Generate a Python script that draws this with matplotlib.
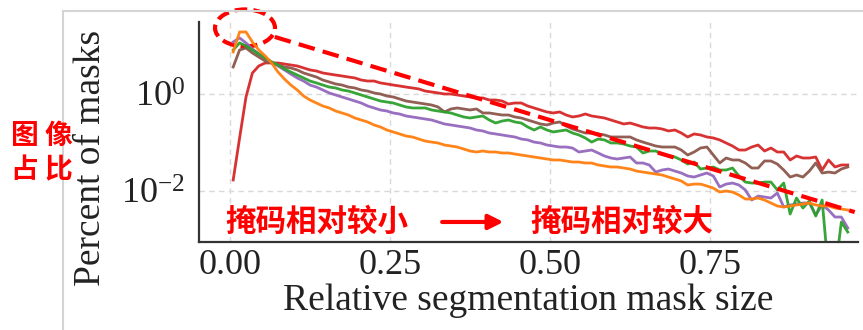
import numpy as np
import matplotlib.pyplot as plt
from matplotlib.patches import Ellipse
from matplotlib.lines import Line2D
from matplotlib.ticker import FixedLocator, NullLocator, StrMethodFormatter

plt.rcParams['font.family'] = ['Liberation Serif', 'DejaVu Serif']
plt.rcParams['mathtext.fontset'] = 'stix'

# bin centres of the relative mask size histogram (1% bins)
mask_size = np.arange(97) * 0.01 + 0.005

# percent of masks per bin, one list per dataset
pct_red = [0.0169, 0.124, 0.867, 2.71, 3.78, 4.36, 4.36, 4.36, 4.15, 3.96,
           3.78, 3.44, 3.13, 2.98, 2.71, 2.58, 2.46, 2.35, 2.24, 2.14,
           1.94, 1.85, 1.85, 1.69, 1.61, 1.53, 1.46, 1.39, 1.33, 1.27,
           1.15, 1.10, 1.05, 1.00, 1.00, 0.954, 0.910, 0.867, 0.827, 0.827,
           0.752, 0.752, 0.717, 0.622, 0.652, 0.652, 0.566, 0.515, 0.468, 0.426,
           0.406, 0.426, 0.369, 0.336, 0.352, 0.387, 0.352, 0.336, 0.320, 0.291,
           0.265, 0.241, 0.252, 0.230, 0.209, 0.199, 0.199, 0.190, 0.173, 0.181,
           0.157, 0.130, 0.150, 0.143, 0.130, 0.124, 0.113, 0.0977, 0.0847, 0.0700,
           0.0700, 0.0807, 0.0888, 0.0668, 0.0770, 0.0637, 0.0637, 0.0436, 0.0527, 0.0479,
           0.0479, 0.0502, 0.0271, 0.0436, 0.0313, 0.0344, 0.0344]

pct_brown = [3.60, 8.08, 8.88, 7.00, 5.79, 4.79, 4.36, 3.96, 3.60, 3.44,
             3.13, 2.71, 2.46, 2.24, 1.94, 1.77, 1.61, 1.53, 1.39, 1.33,
             1.21, 1.15, 1.05, 1.00, 0.910, 0.867, 0.789, 0.717, 0.684, 0.652,
             0.622, 0.593, 0.540, 0.426, 0.491, 0.515, 0.491, 0.468, 0.491, 0.406,
             0.406, 0.387, 0.369, 0.369, 0.336, 0.320, 0.291, 0.265, 0.241, 0.230,
             0.252, 0.265, 0.219, 0.190, 0.173, 0.157, 0.157, 0.150, 0.143, 0.130,
             0.130, 0.130, 0.130, 0.113, 0.102, 0.0931, 0.0847, 0.0807, 0.0807, 0.0807,
             0.0700, 0.0552, 0.0637, 0.0770, 0.0807, 0.0552, 0.0378, 0.0479, 0.0436, 0.0436,
             0.0378, 0.0298, 0.0298, 0.0416, 0.0416, 0.0360, 0.0271, 0.0194, 0.0214, 0.0194,
             0.0258, 0.0378, 0.0235, 0.0246, 0.0235, 0.0284, 0.0313]

pct_green = [8.08, 11.3, 9.77, 8.08, 6.68, 5.52, 4.57, 3.96, 3.28, 2.84,
             2.46, 2.14, 1.85, 1.69, 1.53, 1.39, 1.33, 1.21, 1.15, 1.05,
             0.954, 0.867, 0.789, 0.717, 0.684, 0.652, 0.593, 0.540, 0.515, 0.515,
             0.515, 0.468, 0.446, 0.426, 0.406, 0.369, 0.336, 0.320, 0.336, 0.352,
             0.291, 0.252, 0.277, 0.291, 0.265, 0.252, 0.209, 0.181, 0.209, 0.181,
             0.165, 0.173, 0.181, 0.157, 0.143, 0.124, 0.102, 0.118, 0.113, 0.0977,
             0.0977, 0.0931, 0.0847, 0.0807, 0.0608, 0.0668, 0.0668, 0.0579, 0.0527, 0.0502,
             0.0436, 0.0360, 0.0396, 0.0284, 0.0298, 0.0313, 0.0271, 0.0271, 0.0298, 0.0204,
             0.0153, 0.0146, 0.0146, 0.0153, 0.0153, 0.0105, 0.0146, 0.00336, 0.00717, 0.00446,
             0.00622, 0.00305, 0.00652, 0.0002, 0.0002, 0.00230, 0.00143]

pct_purple = [11.8, 14.3, 11.3, 8.47, 6.68, 5.52, 4.57, 3.78, 3.13, 2.58,
              2.14, 1.85, 1.53, 1.39, 1.21, 1.05, 0.954, 0.867, 0.789, 0.717,
              0.652, 0.566, 0.515, 0.468, 0.446, 0.406, 0.387, 0.352, 0.336, 0.320,
              0.305, 0.291, 0.265, 0.241, 0.230, 0.219, 0.209, 0.199, 0.181, 0.173,
              0.157, 0.150, 0.143, 0.136, 0.130, 0.118, 0.113, 0.102, 0.0977, 0.0888,
              0.0847, 0.0807, 0.0807, 0.0770, 0.0637, 0.0668, 0.0700, 0.0608, 0.0527, 0.0479,
              0.0457, 0.0479, 0.0502, 0.0378, 0.0378, 0.0344, 0.0246, 0.0271, 0.0284, 0.0258,
              0.0235, 0.0204, 0.0194, 0.0214, 0.0235, 0.0204, 0.0121, 0.0139, 0.0146, 0.0133,
              0.0105, 0.00652, 0.00788, 0.00752, 0.00717, 0.00909, 0.00468, 0.00515, 0.00540, 0.00566,
              0.00566, 0.00320, 0.00515, 0.00406, 0.00291, 0.00291, 0.00173]

pct_orange = [7.35, 19.0, 19.0, 11.8, 8.08, 6.08, 4.36, 2.84, 2.04, 1.53,
              1.21, 0.910, 0.752, 0.652, 0.566, 0.515, 0.446, 0.406, 0.369, 0.320,
              0.291, 0.265, 0.230, 0.209, 0.181, 0.165, 0.150, 0.136, 0.130, 0.118,
              0.107, 0.102, 0.0977, 0.0888, 0.0847, 0.0807, 0.0734, 0.0668, 0.0637, 0.0668,
              0.0637, 0.0637, 0.0608, 0.0608, 0.0579, 0.0552, 0.0527, 0.0502, 0.0479, 0.0457,
              0.0436, 0.0436, 0.0416, 0.0396, 0.0396, 0.0378, 0.0378, 0.0344, 0.0328, 0.0313,
              0.0313, 0.0298, 0.0284, 0.0258, 0.0246, 0.0235, 0.0224, 0.0214, 0.0194, 0.0177,
              0.0161, 0.0133, 0.0139, 0.0139, 0.0127, 0.0115, 0.00953, 0.0100, 0.00953, 0.00827,
              0.00684, 0.00684, 0.00717, 0.00652, 0.00566, 0.00491, 0.00468, 0.00491, 0.00515, 0.00540,
              0.00566, 0.00515, 0.00491, 0.00491, 0.00446, 0.00426, 0.00406]

x_ticks = [0.0, 0.25, 0.5, 0.75]
y_ticks = [1e-2, 1e0]

series = [(pct_red, '#d62728'),
          (pct_brown, '#8c564b'),
          (pct_purple, '#9467bd'),
          (pct_green, '#2ca02c'),
          (pct_orange, '#ff7f0e')]

fig = plt.figure(figsize=(8.63, 3.30), dpi=100)
ax = fig.add_axes([0.2306, 0.2667, 0.7636, 0.6667])

for values, color in series:
    ax.plot(mask_size, values, color=color, lw=2.0, alpha=0.95)

ax.set_yscale('log')
ax.set_xlim(-0.0484, 0.981)
ax.set_ylim(8.9e-4, 30.5)

ax.xaxis.set_major_locator(FixedLocator(x_ticks))
ax.xaxis.set_major_formatter(StrMethodFormatter('{x:.2f}'))
ax.yaxis.set_major_locator(FixedLocator(y_ticks))
ax.yaxis.set_minor_locator(NullLocator())

ax.grid(True, color='#d9d9d9', lw=1.0, ls=(0, (4, 3)))
ax.set_axisbelow(True)
for side in ['top', 'right']:
    ax.spines[side].set_visible(False)
for side in ['left', 'bottom']:
    ax.spines[side].set_color('#333333')
    ax.spines[side].set_linewidth(1.6)

ax.tick_params(axis='both', length=0, labelsize=26, colors='#222222')
ax.tick_params(axis='x', pad=5)
ax.tick_params(axis='y', pad=10)

ax.set_xlabel('Relative segmentation mask size', fontsize=27,
              color='#222222', labelpad=1)
ax.set_ylabel('Percent of masks', fontsize=27, color='#222222', va='center')
ax.yaxis.set_label_coords(-0.164, 0.382)

# annotations
cjk = ['Noto Sans CJK SC', 'DejaVu Sans']
red = '#ff0000'
ax.text(0.179, 0.091, '掩码相对较小', transform=ax.transAxes, family=cjk,
        fontsize=22, fontweight='bold', color=red, ha='center', va='center')
ax.text(0.642, 0.091, '掩码相对较大', transform=ax.transAxes, family=cjk,
        fontsize=22, fontweight='bold', color=red, ha='center', va='center')
ax.annotate('', xy=(0.462, 0.091), xytext=(0.369, 0.091),
            xycoords='axes fraction',
            arrowprops=dict(arrowstyle='-|>', color=red, lw=3,
                            mutation_scale=22, shrinkA=0, shrinkB=0))
ax.plot([0.115, 0.995], [0.932, 0.136], transform=ax.transAxes, color=red,
        lw=3, ls=(0, (4, 2)), clip_on=False)
ax.add_patch(Ellipse((0.0698, 0.973), 0.091, 0.168, transform=ax.transAxes,
                     fill=False, edgecolor=red, lw=3, ls=(0, (3, 1.5)),
                     clip_on=False))

fig.text(42 / 863, 1 - 153 / 330, '图 像\n占 比', family=cjk, fontsize=20,
         fontweight='bold', color=red, ha='center', va='center',
         linespacing=1.3)

# frame of the original screenshot
fig.add_artist(Line2D([63 / 863, 1.0], [1 - 11 / 330, 1 - 11 / 330],
                      transform=fig.transFigure, color='#d4d4d4', lw=1.5))
fig.add_artist(Line2D([63 / 863, 63 / 863], [0.0, 1 - 11 / 330],
                      transform=fig.transFigure, color='#d4d4d4', lw=1.5))

fig.savefig('out.png', dpi=100)
